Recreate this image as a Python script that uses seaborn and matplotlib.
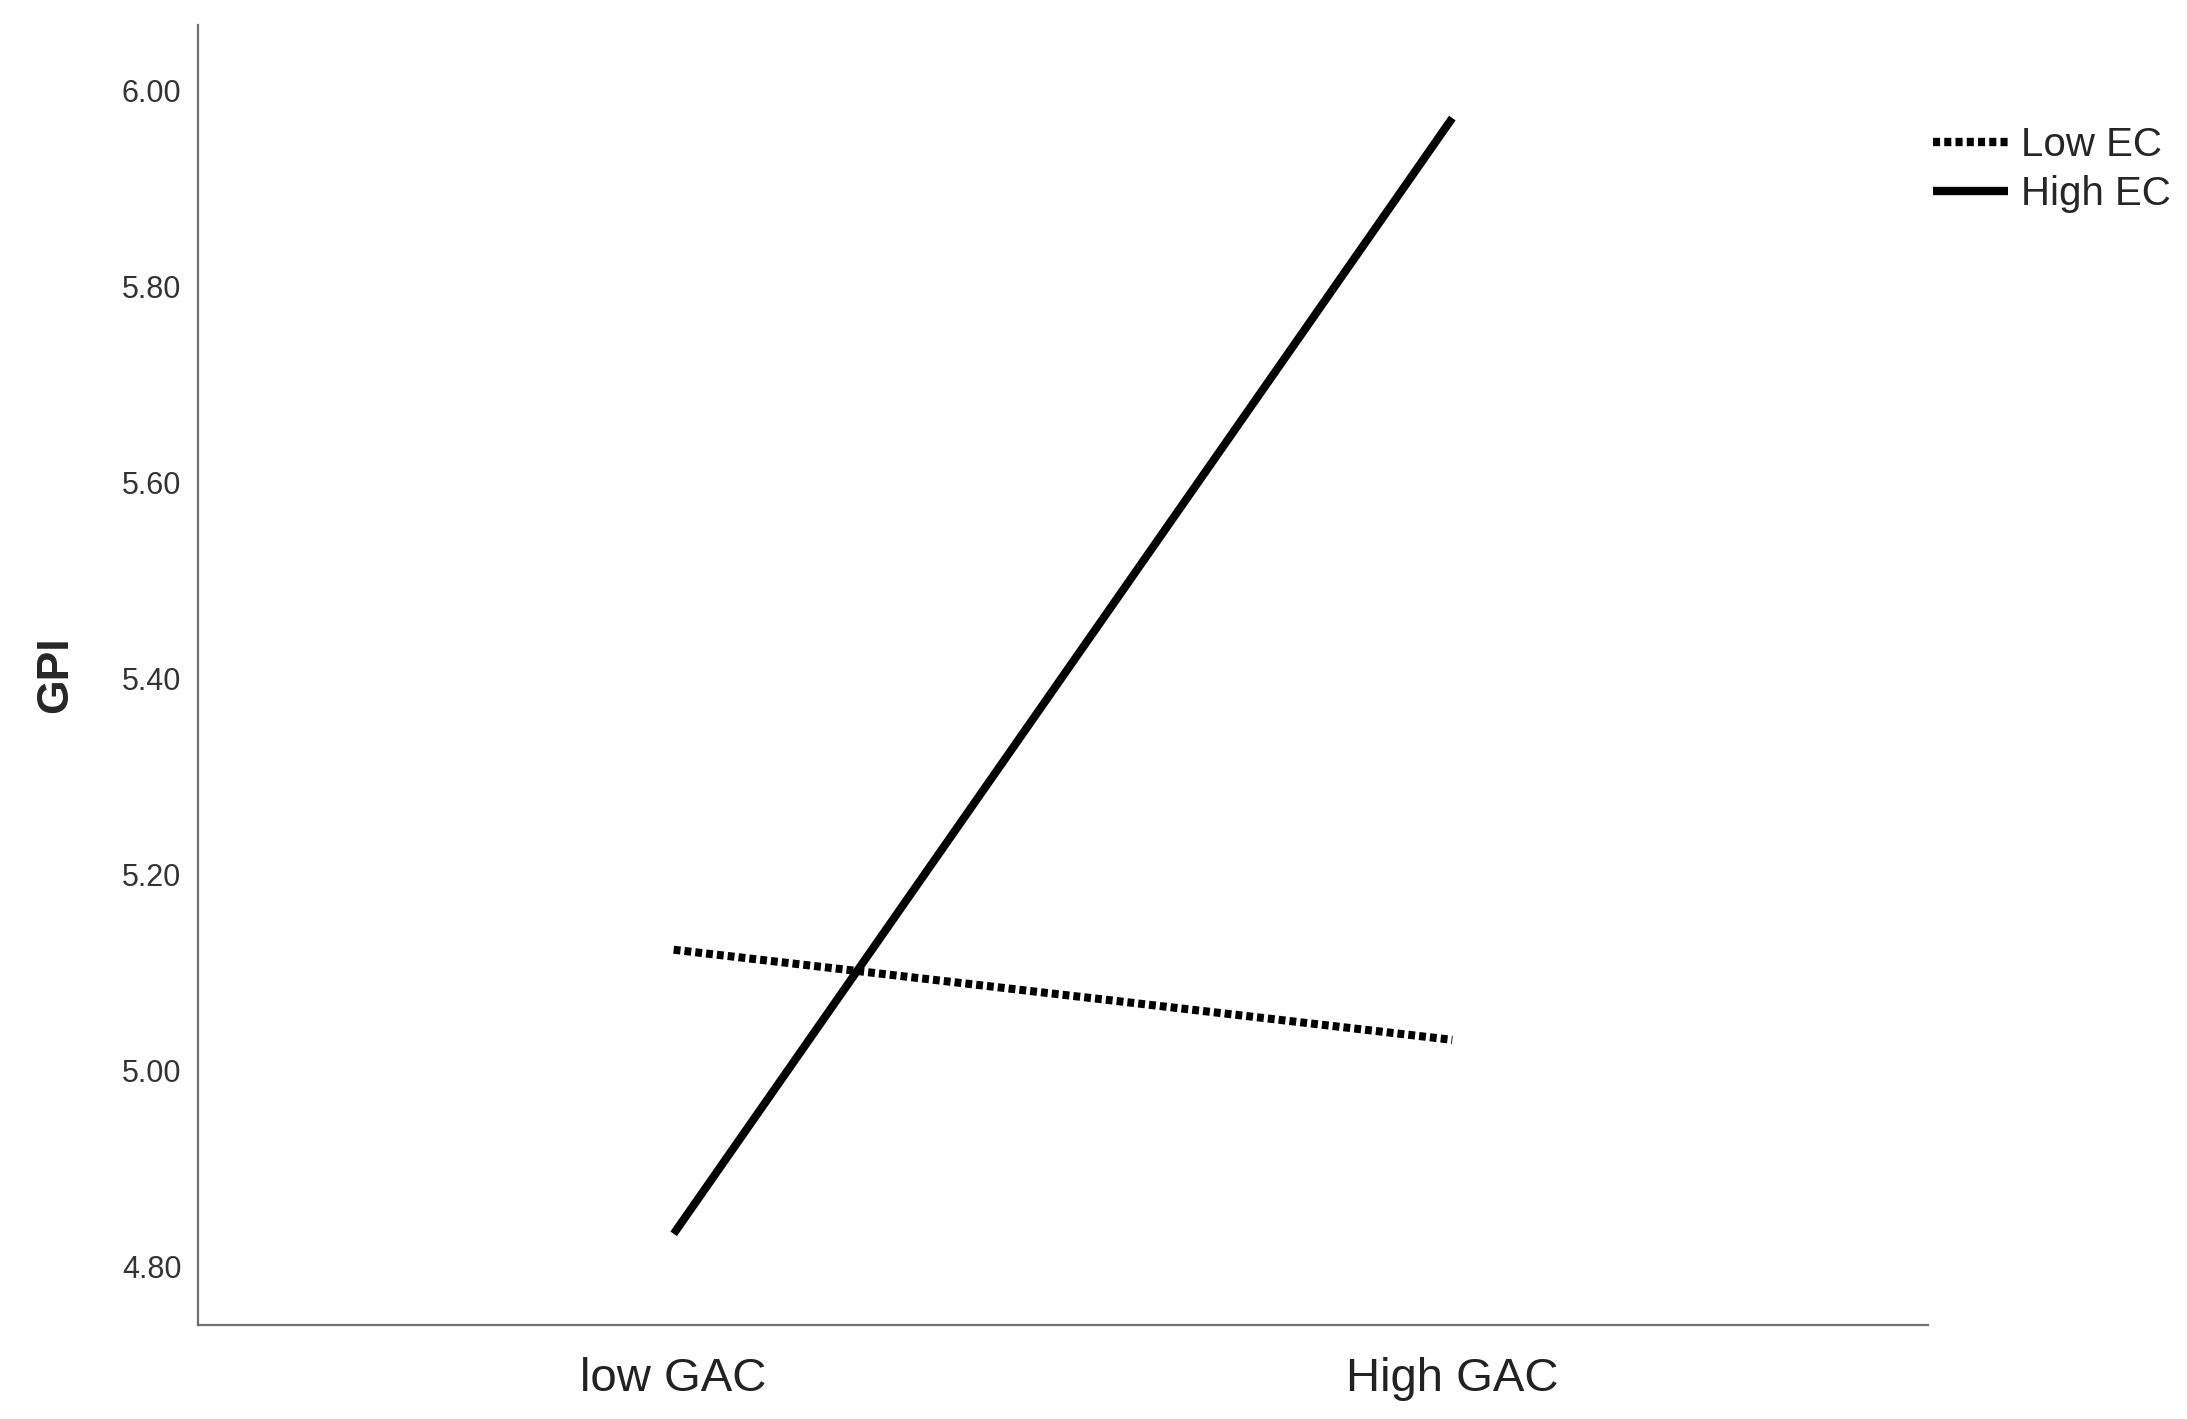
import matplotlib
matplotlib.use("Agg")
import matplotlib.pyplot as plt
import pandas as pd
import seaborn as sns

GAC_LEVELS: list = ["low GAC", "High GAC"]
EC_LEVELS: list = ["Low EC", "High EC"]
LOW_EC: list = [5.123, 5.031]
HIGH_EC: list = [4.833, 5.972]
Y_TICKS: list = [4.80, 5.00, 5.20, 5.40, 5.60, 5.80, 6.00]

df = pd.DataFrame({
    "GAC": GAC_LEVELS * 2,
    "EC": [EC_LEVELS[0]] * 2 + [EC_LEVELS[1]] * 2,
    "GPI": LOW_EC + HIGH_EC,
})

sns.set_theme(style="white")
plt.rcParams["font.family"] = ["Liberation Sans", "DejaVu Sans"]

fig = plt.figure(figsize=(21.87, 14.19), dpi=100)
ax = fig.add_axes([0.0905, 0.0663, 0.7911, 0.9161])

sns.lineplot(
    data=df, x="GAC", y="GPI", hue="EC", style="EC",
    hue_order=EC_LEVELS, style_order=EC_LEVELS,
    palette=["black", "black"],
    dashes={"Low EC": (0.85, 0.5), "High EC": ""},
    linewidth=5.8, ax=ax, sort=False,
)
for line in ax.get_lines():
    line.set_solid_capstyle("butt")
    line.set_dash_capstyle("butt")

ax.set_xlim(-0.611, 1.611)
ax.set_ylim(4.74, 6.067)
ax.set_yticks(Y_TICKS)
ax.set_yticklabels([f"{v:.2f}" for v in Y_TICKS], fontsize=22, color="#333333")
ax.tick_params(axis="x", labelsize=34, pad=23, length=0, colors="#222222")
ax.tick_params(axis="y", pad=12, length=0)
ax.set_xlabel("")
ax.set_ylabel("GPI", fontsize=32, fontweight="bold", labelpad=33)

for side in ["top", "right"]:
    ax.spines[side].set_visible(False)
for side in ["left", "bottom"]:
    ax.spines[side].set_color("#707070")
    ax.spines[side].set_linewidth(1.6)

leg = ax.legend(
    loc="upper left", bbox_to_anchor=(1.003, 0.922), frameon=False,
    fontsize=29, borderaxespad=0, borderpad=0, handlelength=1.85,
    handletextpad=0.33, labelspacing=0.26, title=None,
)
for h in leg.get_lines():
    h.set_linewidth(6)

fig.savefig("out.png", dpi=100, facecolor="white")
